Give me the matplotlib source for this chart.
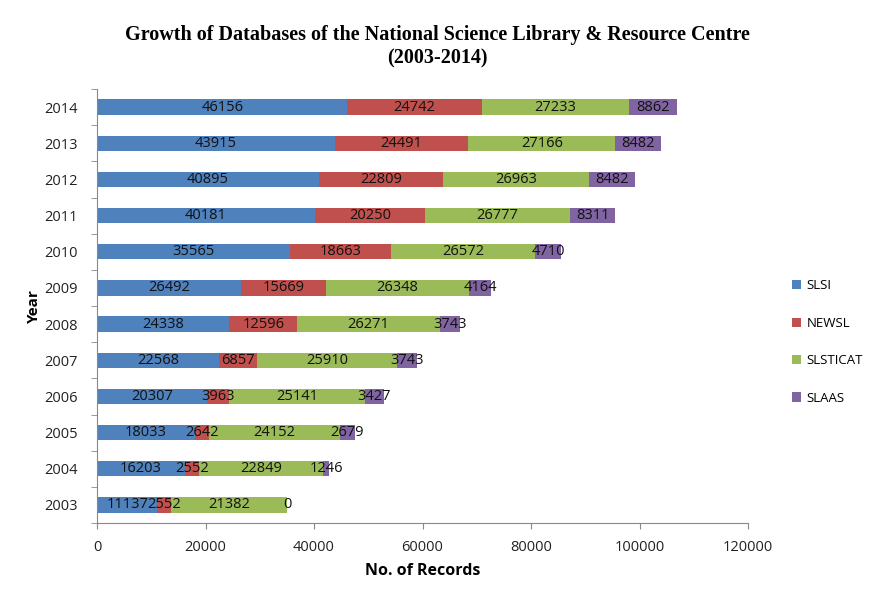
import matplotlib
matplotlib.use("Agg")
import matplotlib.pyplot as plt
import numpy as np

years = ["2003", "2004", "2005", "2006", "2007", "2008", "2009", "2010", "2011", "2012", "2013", "2014"]
slsi = [11137, 16203, 18033, 20307, 22568, 24338, 26492, 35565, 40181, 40895, 43915, 46156]
newsl = [2552, 2552, 2642, 3963, 6857, 12596, 15669, 18663, 20250, 22809, 24491, 24742]
slsticat = [21382, 22849, 24152, 25141, 25910, 26271, 26348, 26572, 26777, 26963, 27166, 27233]
slaas = [0, 1246, 2679, 3427, 3743, 3743, 4164, 4710, 8311, 8482, 8482, 8862]
series_names = ["SLSI", "NEWSL", "SLSTICAT", "SLAAS"]
colors = ["#4F81BD", "#C0504D", "#9BBB59", "#8064A2"]
xticks = [0, 20000, 40000, 60000, 80000, 100000, 120000]

plt.rcParams['font.family'] = ['Open Sans', 'DejaVu Sans']

fig = plt.figure(figsize=(8.74, 5.91), dpi=100)
ax = fig.add_axes([97/874, 1-523/591, (748-97)/874, (523-89)/591])

y = np.arange(len(years))
left = np.zeros(len(years))
for name, vals, c in zip(series_names, [slsi, newsl, slsticat, slaas], colors):
    vals = np.array(vals, dtype=float)
    ax.barh(y, vals, left=left, height=0.42, color=c, label=name)
    for yi, l, v in zip(y, left, vals):
        ax.text(l + v/2, yi, f"{int(v)}", ha='center', va='center', fontsize=10.5, color='#111111')
    left += vals

ax.set_xlim(0, 120000)
ax.set_ylim(-0.5, len(years)-0.5)
ax.set_yticks(y)
ax.set_yticklabels(years, fontsize=10.5)
ax.set_yticks(np.arange(-0.5, len(years), 1.0), minor=True)
ax.tick_params(axis='y', which='major', length=0, pad=14)
ax.tick_params(axis='y', which='minor', length=4, color='#888888')
ax.set_xticks(xticks)
ax.set_xticklabels([str(t) for t in xticks], fontsize=10.5)
ax.tick_params(axis='x', which='major', length=4, color='#888888', pad=8)
for s in ['top', 'right']:
    ax.spines[s].set_visible(False)
for s in ['left', 'bottom']:
    ax.spines[s].set_color('#888888')
ax.tick_params(axis='both', labelcolor='#222222')
ax.set_xlabel("No. of Records", fontsize=11.5, fontweight='bold', labelpad=6)
ax.set_ylabel("Year", fontsize=11, fontweight='bold', labelpad=2)

fig.text(0.5, 1-35/591, "Growth of Databases of the National Science Library & Resource Centre",
         ha='center', va='center', fontsize=14.5, fontweight='bold', family='Liberation Serif')
fig.text(0.5, 1-58/591, "(2003-2014)",
         ha='center', va='center', fontsize=14.5, fontweight='bold', family='Liberation Serif')

handles, labels = ax.get_legend_handles_labels()
fig.legend(handles, labels, loc='center left', bbox_to_anchor=(780/874, 1-342/591),
           frameon=False, fontsize=9.5, handlelength=0.7, handleheight=0.7,
           labelspacing=1.85, handletextpad=0.4)

fig.savefig("out.png", dpi=100)
